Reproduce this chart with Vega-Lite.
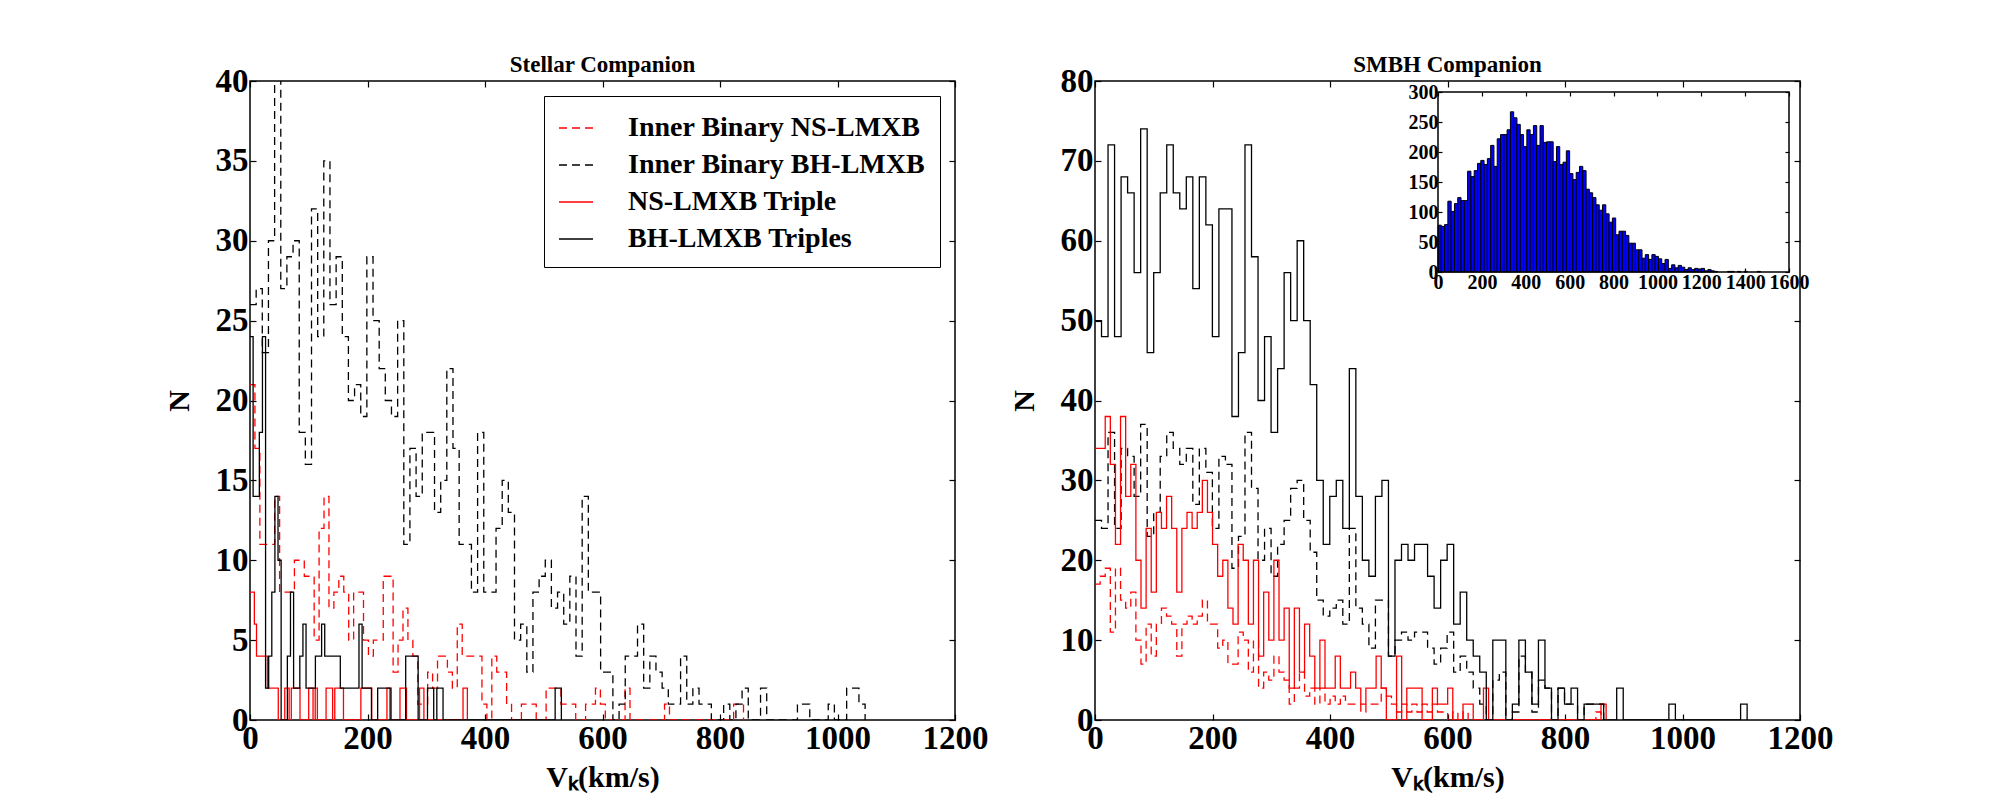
{
"$schema": "https://vega.github.io/schema/vega-lite/v6.json",
"background": "white",
"padding": {"left": 163, "top": 53, "right": 5, "bottom": 5},
"autosize": {"type": "pad"},
"config": {
  "font": "Liberation Serif",
  "view": {"stroke": "#000", "strokeWidth": 1.5},
  "axis": {"grid": false, "domain": false, "format": "d", "labelFont": "Liberation Serif", "labelFontWeight": "bold", "labelFontSize": 33, "labelColor": "#000", "tickColor": "#000", "tickSize": -6, "tickWidth": 1.2, "labelPadding": 8, "titleFont": "Liberation Serif", "titleFontWeight": "bold", "titleFontSize": 30, "titleColor": "#000", "labelOverlap": false, "labelBound": false, "labelFlush": false},
  "title": {"font": "Liberation Serif", "fontWeight": "bold", "fontSize": 23, "color": "#000", "offset": -12},
  "line": {"strokeJoin": "miter", "strokeCap": "butt"}
},
"datasets": {
"L": [
{"s":"a","v":0,"n":21},{"s":"a","v":8.4,"n":17},{"s":"a","v":16.8,"n":11},{"s":"a","v":42,"n":14},{"s":"a","v":50.4,"n":8},{"s":"a","v":75.6,"n":10},{"s":"a","v":92.4,"n":9},{"s":"a","v":109.2,"n":5},{"s":"a","v":117.6,"n":12},{"s":"a","v":126,"n":14},{"s":"a","v":134.4,"n":7},{"s":"a","v":142.8,"n":8},{"s":"a","v":151.2,"n":9},{"s":"a","v":159.6,"n":8},{"s":"a","v":168,"n":5},{"s":"a","v":176.4,"n":8},{"s":"a","v":193.2,"n":5},{"s":"a","v":201.6,"n":4},{"s":"a","v":210,"n":5},{"s":"a","v":226.8,"n":9},{"s":"a","v":243.6,"n":3},{"s":"a","v":252,"n":5},{"s":"a","v":260.4,"n":7},{"s":"a","v":268.8,"n":5},{"s":"a","v":277.2,"n":4},{"s":"a","v":285.6,"n":1},{"s":"a","v":302.4,"n":3},{"s":"a","v":310.8,"n":2},{"s":"a","v":319.2,"n":4},{"s":"a","v":336,"n":3},{"s":"a","v":344.4,"n":2},{"s":"a","v":352.8,"n":6},{"s":"a","v":361.2,"n":4},{"s":"a","v":394.8,"n":1},{"s":"a","v":403.2,"n":0},{"s":"a","v":411.6,"n":4},{"s":"a","v":420,"n":3},{"s":"a","v":436.8,"n":1},{"s":"a","v":445.2,"n":0},{"s":"a","v":462,"n":1},{"s":"a","v":487.2,"n":0},{"s":"a","v":504,"n":2},{"s":"a","v":529.2,"n":1},{"s":"a","v":554.4,"n":0},{"s":"a","v":571.2,"n":1},{"s":"a","v":588,"n":2},{"s":"a","v":596.4,"n":1},{"s":"a","v":604.8,"n":0},{"s":"a","v":638.4,"n":2},{"s":"a","v":646.8,"n":0},{"s":"a","v":705.6,"n":1},{"s":"a","v":714,"n":0},{"s":"a","v":823.2,"n":1},{"s":"a","v":840,"n":0},
{"s":"b","v":0,"n":26},{"s":"b","v":10.5,"n":27},{"s":"b","v":20.9,"n":23},{"s":"b","v":31.4,"n":30},{"s":"b","v":41.9,"n":42},{"s":"b","v":52.4,"n":27},{"s":"b","v":62.8,"n":29},{"s":"b","v":73.3,"n":30},{"s":"b","v":83.8,"n":18},{"s":"b","v":94.2,"n":16},{"s":"b","v":104.7,"n":32},{"s":"b","v":115.2,"n":24},{"s":"b","v":125.6,"n":35},{"s":"b","v":136.1,"n":26},{"s":"b","v":146.6,"n":29},{"s":"b","v":157.1,"n":24},{"s":"b","v":167.5,"n":20},{"s":"b","v":178,"n":21},{"s":"b","v":188.5,"n":19},{"s":"b","v":198.9,"n":29},{"s":"b","v":209.4,"n":25},{"s":"b","v":219.9,"n":22},{"s":"b","v":230.3,"n":20},{"s":"b","v":240.8,"n":19},{"s":"b","v":251.3,"n":25},{"s":"b","v":261.8,"n":11},{"s":"b","v":272.2,"n":17},{"s":"b","v":282.7,"n":14},{"s":"b","v":293.2,"n":18},{"s":"b","v":314.1,"n":13},{"s":"b","v":324.6,"n":15},{"s":"b","v":335,"n":22},{"s":"b","v":345.5,"n":17},{"s":"b","v":356,"n":11},{"s":"b","v":376.9,"n":8},{"s":"b","v":387.4,"n":18},{"s":"b","v":397.9,"n":8},{"s":"b","v":418.8,"n":12},{"s":"b","v":429.3,"n":15},{"s":"b","v":439.7,"n":13},{"s":"b","v":450.2,"n":5},{"s":"b","v":460.7,"n":6},{"s":"b","v":471.2,"n":3},{"s":"b","v":481.6,"n":8},{"s":"b","v":492.1,"n":9},{"s":"b","v":502.6,"n":10},{"s":"b","v":513,"n":7},{"s":"b","v":523.5,"n":8},{"s":"b","v":534,"n":6},{"s":"b","v":544.4,"n":9},{"s":"b","v":554.9,"n":4},{"s":"b","v":565.4,"n":14},{"s":"b","v":575.9,"n":8},{"s":"b","v":596.8,"n":3},{"s":"b","v":617.7,"n":0},{"s":"b","v":628.2,"n":1},{"s":"b","v":638.7,"n":4},{"s":"b","v":659.6,"n":6},{"s":"b","v":670.1,"n":2},{"s":"b","v":680.6,"n":4},{"s":"b","v":691,"n":3},{"s":"b","v":701.5,"n":2},{"s":"b","v":712,"n":1},{"s":"b","v":732.9,"n":4},{"s":"b","v":743.4,"n":1},{"s":"b","v":753.8,"n":2},{"s":"b","v":764.3,"n":1},{"s":"b","v":785.3,"n":0},{"s":"b","v":806.2,"n":1},{"s":"b","v":816.7,"n":0},{"s":"b","v":827.1,"n":1},{"s":"b","v":837.6,"n":2},{"s":"b","v":848.1,"n":0},{"s":"b","v":869,"n":2},{"s":"b","v":879.5,"n":0},{"s":"b","v":931.8,"n":1},{"s":"b","v":952.8,"n":0},{"s":"b","v":984.2,"n":1},{"s":"b","v":994.7,"n":0},{"s":"b","v":1015.6,"n":2},{"s":"b","v":1036.5,"n":1},{"s":"b","v":1047,"n":0},
{"s":"c","v":0,"n":8},{"s":"c","v":7.4,"n":6},{"s":"c","v":11.1,"n":4},{"s":"c","v":29.6,"n":2},{"s":"c","v":48.1,"n":0},{"s":"c","v":59.2,"n":2},{"s":"c","v":66.6,"n":0},{"s":"c","v":70.3,"n":2},{"s":"c","v":85.1,"n":0},{"s":"c","v":99.9,"n":2},{"s":"c","v":107.3,"n":0},{"s":"c","v":111,"n":2},{"s":"c","v":114.7,"n":0},{"s":"c","v":129.5,"n":2},{"s":"c","v":140.6,"n":0},{"s":"c","v":144.3,"n":2},{"s":"c","v":159.1,"n":0},{"s":"c","v":188.7,"n":2},{"s":"c","v":207.2,"n":0},{"s":"c","v":233.1,"n":2},{"s":"c","v":240.5,"n":0},{"s":"c","v":255.3,"n":2},{"s":"c","v":266.4,"n":0},{"s":"c","v":288.6,"n":2},{"s":"c","v":296,"n":0},{"s":"c","v":362.6,"n":2},{"s":"c","v":370,"n":0},
{"s":"d","v":0,"n":24},{"s":"d","v":5.3,"n":14},{"s":"d","v":15.9,"n":18},{"s":"d","v":21.2,"n":24},{"s":"d","v":26.5,"n":2},{"s":"d","v":31.8,"n":4},{"s":"d","v":37.1,"n":8},{"s":"d","v":42.4,"n":14},{"s":"d","v":47.7,"n":10},{"s":"d","v":53,"n":0},{"s":"d","v":63.6,"n":4},{"s":"d","v":68.9,"n":8},{"s":"d","v":74.2,"n":2},{"s":"d","v":84.8,"n":4},{"s":"d","v":90.1,"n":6},{"s":"d","v":95.4,"n":2},{"s":"d","v":111.3,"n":4},{"s":"d","v":121.9,"n":6},{"s":"d","v":127.2,"n":4},{"s":"d","v":153.7,"n":2},{"s":"d","v":185.5,"n":6},{"s":"d","v":190.8,"n":2},{"s":"d","v":206.7,"n":0},{"s":"d","v":217.3,"n":2},{"s":"d","v":238.5,"n":0},{"s":"d","v":265,"n":4},{"s":"d","v":286.2,"n":0},{"s":"d","v":302.1,"n":2},{"s":"d","v":312.7,"n":0},{"s":"d","v":318,"n":2},{"s":"d","v":328.6,"n":0},{"s":"d","v":519.4,"n":2},{"s":"d","v":530,"n":0}
],
"R": [
{"s":"a","v":0,"n":17},{"s":"a","v":8.7,"n":18},{"s":"a","v":17.4,"n":19},{"s":"a","v":26.1,"n":11},{"s":"a","v":34.8,"n":19},{"s":"a","v":43.5,"n":15},{"s":"a","v":52.2,"n":14},{"s":"a","v":60.9,"n":16},{"s":"a","v":69.6,"n":10},{"s":"a","v":78.3,"n":7},{"s":"a","v":87,"n":12},{"s":"a","v":95.7,"n":8},{"s":"a","v":104.4,"n":12},{"s":"a","v":113.1,"n":14},{"s":"a","v":121.8,"n":13},{"s":"a","v":130.5,"n":12},{"s":"a","v":139.2,"n":8},{"s":"a","v":147.9,"n":12},{"s":"a","v":156.6,"n":13},{"s":"a","v":165.3,"n":12},{"s":"a","v":174,"n":13},{"s":"a","v":182.7,"n":15},{"s":"a","v":191.4,"n":12},{"s":"a","v":208.8,"n":9},{"s":"a","v":217.5,"n":10},{"s":"a","v":226.2,"n":7},{"s":"a","v":243.6,"n":11},{"s":"a","v":252.3,"n":10},{"s":"a","v":261,"n":6},{"s":"a","v":269.7,"n":10},{"s":"a","v":278.4,"n":4},{"s":"a","v":287.1,"n":6},{"s":"a","v":295.8,"n":5},{"s":"a","v":304.5,"n":8},{"s":"a","v":313.2,"n":6},{"s":"a","v":321.9,"n":5},{"s":"a","v":330.6,"n":2},{"s":"a","v":339.3,"n":4},{"s":"a","v":348,"n":6},{"s":"a","v":356.7,"n":3},{"s":"a","v":365.4,"n":4},{"s":"a","v":374.1,"n":2},{"s":"a","v":382.8,"n":4},{"s":"a","v":391.5,"n":2},{"s":"a","v":400.2,"n":3},{"s":"a","v":408.9,"n":2},{"s":"a","v":417.6,"n":3},{"s":"a","v":426.3,"n":2},{"s":"a","v":452.4,"n":1},{"s":"a","v":461.1,"n":2},{"s":"a","v":487.2,"n":4},{"s":"a","v":495.9,"n":3},{"s":"a","v":504.6,"n":2},{"s":"a","v":513.3,"n":1},{"s":"a","v":522,"n":2},{"s":"a","v":530.7,"n":1},{"s":"a","v":539.4,"n":2},{"s":"a","v":548.1,"n":1},{"s":"a","v":556.8,"n":2},{"s":"a","v":565.5,"n":1},{"s":"a","v":574.2,"n":2},{"s":"a","v":582.9,"n":1},{"s":"a","v":600.3,"n":0},{"s":"a","v":609,"n":1},{"s":"a","v":617.7,"n":0},{"s":"a","v":626.4,"n":1},{"s":"a","v":635.1,"n":0},{"s":"a","v":852.6,"n":1},{"s":"a","v":861.3,"n":0},
{"s":"b","v":0,"n":25},{"s":"b","v":11.1,"n":24},{"s":"b","v":22.2,"n":36},{"s":"b","v":33.3,"n":24},{"s":"b","v":44.4,"n":34},{"s":"b","v":55.5,"n":33},{"s":"b","v":66.6,"n":28},{"s":"b","v":77.7,"n":37},{"s":"b","v":88.8,"n":23},{"s":"b","v":99.9,"n":26},{"s":"b","v":111,"n":33},{"s":"b","v":122.1,"n":36},{"s":"b","v":133.2,"n":34},{"s":"b","v":144.3,"n":32},{"s":"b","v":155.4,"n":34},{"s":"b","v":166.5,"n":27},{"s":"b","v":177.6,"n":34},{"s":"b","v":188.7,"n":31},{"s":"b","v":199.8,"n":24},{"s":"b","v":210.9,"n":33},{"s":"b","v":222,"n":32},{"s":"b","v":233.1,"n":19},{"s":"b","v":244.2,"n":23},{"s":"b","v":255.3,"n":36},{"s":"b","v":266.4,"n":29},{"s":"b","v":277.5,"n":20},{"s":"b","v":288.6,"n":24},{"s":"b","v":299.7,"n":18},{"s":"b","v":310.8,"n":22},{"s":"b","v":321.9,"n":25},{"s":"b","v":333,"n":29},{"s":"b","v":344.1,"n":30},{"s":"b","v":355.2,"n":25},{"s":"b","v":366.3,"n":21},{"s":"b","v":377.4,"n":15},{"s":"b","v":388.5,"n":13},{"s":"b","v":399.6,"n":14},{"s":"b","v":410.7,"n":15},{"s":"b","v":421.8,"n":12},{"s":"b","v":432.9,"n":24},{"s":"b","v":444,"n":14},{"s":"b","v":455.1,"n":12},{"s":"b","v":466.2,"n":9},{"s":"b","v":477.3,"n":15},{"s":"b","v":499.5,"n":8},{"s":"b","v":510.6,"n":10},{"s":"b","v":521.7,"n":11},{"s":"b","v":532.8,"n":10},{"s":"b","v":543.9,"n":11},{"s":"b","v":566.1,"n":9},{"s":"b","v":577.2,"n":7},{"s":"b","v":588.3,"n":9},{"s":"b","v":599.4,"n":11},{"s":"b","v":610.5,"n":6},{"s":"b","v":621.6,"n":8},{"s":"b","v":632.7,"n":6},{"s":"b","v":643.8,"n":4},{"s":"b","v":654.9,"n":2},{"s":"b","v":666,"n":0},{"s":"b","v":677.1,"n":5},{"s":"b","v":688.2,"n":6},{"s":"b","v":699.3,"n":0},{"s":"b","v":710.4,"n":1},{"s":"b","v":721.5,"n":8},{"s":"b","v":732.6,"n":6},{"s":"b","v":743.7,"n":1},{"s":"b","v":754.8,"n":5},{"s":"b","v":765.9,"n":4},{"s":"b","v":777,"n":0},{"s":"b","v":788.1,"n":4},{"s":"b","v":799.2,"n":2},{"s":"b","v":821.4,"n":0},{"s":"b","v":832.5,"n":2},{"s":"b","v":865.8,"n":0},
{"s":"c","v":0,"n":34},{"s":"c","v":17.4,"n":38},{"s":"c","v":26.1,"n":32},{"s":"c","v":34.8,"n":22},{"s":"c","v":43.5,"n":38},{"s":"c","v":52.2,"n":28},{"s":"c","v":60.9,"n":32},{"s":"c","v":69.6,"n":20},{"s":"c","v":78.3,"n":14},{"s":"c","v":87,"n":24},{"s":"c","v":95.7,"n":16},{"s":"c","v":104.4,"n":26},{"s":"c","v":113.1,"n":24},{"s":"c","v":121.8,"n":28},{"s":"c","v":130.5,"n":24},{"s":"c","v":139.2,"n":16},{"s":"c","v":147.9,"n":24},{"s":"c","v":156.6,"n":26},{"s":"c","v":165.3,"n":24},{"s":"c","v":174,"n":26},{"s":"c","v":182.7,"n":30},{"s":"c","v":191.4,"n":26},{"s":"c","v":200.1,"n":22},{"s":"c","v":208.8,"n":18},{"s":"c","v":217.5,"n":20},{"s":"c","v":226.2,"n":14},{"s":"c","v":234.9,"n":12},{"s":"c","v":243.6,"n":22},{"s":"c","v":252.3,"n":20},{"s":"c","v":261,"n":12},{"s":"c","v":269.7,"n":20},{"s":"c","v":278.4,"n":8},{"s":"c","v":287.1,"n":16},{"s":"c","v":295.8,"n":10},{"s":"c","v":304.5,"n":20},{"s":"c","v":313.2,"n":10},{"s":"c","v":321.9,"n":14},{"s":"c","v":330.6,"n":4},{"s":"c","v":339.3,"n":14},{"s":"c","v":348,"n":6},{"s":"c","v":356.7,"n":12},{"s":"c","v":365.4,"n":8},{"s":"c","v":374.1,"n":4},{"s":"c","v":382.8,"n":10},{"s":"c","v":391.5,"n":4},{"s":"c","v":408.9,"n":8},{"s":"c","v":417.6,"n":4},{"s":"c","v":435,"n":6},{"s":"c","v":443.7,"n":4},{"s":"c","v":452.4,"n":2},{"s":"c","v":461.1,"n":4},{"s":"c","v":478.5,"n":8},{"s":"c","v":487.2,"n":4},{"s":"c","v":495.9,"n":0},{"s":"c","v":513.3,"n":8},{"s":"c","v":522,"n":0},{"s":"c","v":530.7,"n":4},{"s":"c","v":556.8,"n":0},{"s":"c","v":574.2,"n":4},{"s":"c","v":582.9,"n":2},{"s":"c","v":600.3,"n":4},{"s":"c","v":609,"n":0},{"s":"c","v":626.4,"n":2},{"s":"c","v":643.8,"n":0},{"s":"c","v":661.2,"n":4},{"s":"c","v":669.9,"n":0},{"s":"c","v":861.3,"n":2},{"s":"c","v":870,"n":0},
{"s":"d","v":0,"n":50},{"s":"d","v":11.1,"n":48},{"s":"d","v":22.2,"n":72},{"s":"d","v":33.3,"n":48},{"s":"d","v":44.4,"n":68},{"s":"d","v":55.5,"n":66},{"s":"d","v":66.6,"n":56},{"s":"d","v":77.7,"n":74},{"s":"d","v":88.8,"n":46},{"s":"d","v":99.9,"n":56},{"s":"d","v":111,"n":66},{"s":"d","v":122.1,"n":72},{"s":"d","v":133.2,"n":66},{"s":"d","v":144.3,"n":64},{"s":"d","v":155.4,"n":68},{"s":"d","v":166.5,"n":54},{"s":"d","v":177.6,"n":68},{"s":"d","v":188.7,"n":62},{"s":"d","v":199.8,"n":48},{"s":"d","v":210.9,"n":64},{"s":"d","v":233.1,"n":38},{"s":"d","v":244.2,"n":46},{"s":"d","v":255.3,"n":72},{"s":"d","v":266.4,"n":58},{"s":"d","v":277.5,"n":40},{"s":"d","v":288.6,"n":48},{"s":"d","v":299.7,"n":36},{"s":"d","v":310.8,"n":44},{"s":"d","v":321.9,"n":56},{"s":"d","v":333,"n":50},{"s":"d","v":344.1,"n":60},{"s":"d","v":355.2,"n":50},{"s":"d","v":366.3,"n":42},{"s":"d","v":377.4,"n":30},{"s":"d","v":388.5,"n":22},{"s":"d","v":399.6,"n":28},{"s":"d","v":410.7,"n":30},{"s":"d","v":421.8,"n":24},{"s":"d","v":432.9,"n":44},{"s":"d","v":444,"n":28},{"s":"d","v":455.1,"n":20},{"s":"d","v":466.2,"n":18},{"s":"d","v":477.3,"n":28},{"s":"d","v":488.4,"n":30},{"s":"d","v":499.5,"n":8},{"s":"d","v":510.6,"n":20},{"s":"d","v":521.7,"n":22},{"s":"d","v":532.8,"n":20},{"s":"d","v":543.9,"n":22},{"s":"d","v":566.1,"n":18},{"s":"d","v":577.2,"n":14},{"s":"d","v":588.3,"n":20},{"s":"d","v":599.4,"n":22},{"s":"d","v":610.5,"n":12},{"s":"d","v":621.6,"n":16},{"s":"d","v":632.7,"n":10},{"s":"d","v":643.8,"n":8},{"s":"d","v":654.9,"n":6},{"s":"d","v":666,"n":0},{"s":"d","v":677.1,"n":10},{"s":"d","v":699.3,"n":0},{"s":"d","v":710.4,"n":2},{"s":"d","v":721.5,"n":10},{"s":"d","v":732.6,"n":6},{"s":"d","v":743.7,"n":2},{"s":"d","v":754.8,"n":10},{"s":"d","v":765.9,"n":4},{"s":"d","v":777,"n":0},{"s":"d","v":788.1,"n":4},{"s":"d","v":799.2,"n":2},{"s":"d","v":810.3,"n":4},{"s":"d","v":821.4,"n":0},{"s":"d","v":832.5,"n":2},{"s":"d","v":865.8,"n":0},{"s":"d","v":888,"n":4},{"s":"d","v":899.1,"n":0},{"s":"d","v":976.8,"n":2},{"s":"d","v":987.9,"n":0},{"s":"d","v":1098.9,"n":2},{"s":"d","v":1110,"n":0}
],
"I": [
{"x0":0,"x1":15,"h":78},{"x0":15,"x1":30,"h":76},{"x0":30,"x1":45,"h":79},{"x0":45,"x1":60,"h":118},{"x0":60,"x1":75,"h":101},{"x0":75,"x1":90,"h":114},{"x0":90,"x1":105,"h":124},{"x0":105,"x1":120,"h":119},{"x0":120,"x1":135,"h":119},{"x0":135,"x1":150,"h":168},{"x0":150,"x1":165,"h":159},{"x0":165,"x1":180,"h":169},{"x0":180,"x1":195,"h":181},{"x0":195,"x1":210,"h":186},{"x0":210,"x1":225,"h":179},{"x0":225,"x1":240,"h":189},{"x0":240,"x1":255,"h":211},{"x0":255,"x1":270,"h":176},{"x0":270,"x1":285,"h":222},{"x0":285,"x1":300,"h":229},{"x0":300,"x1":315,"h":229},{"x0":315,"x1":330,"h":237},{"x0":330,"x1":345,"h":267},{"x0":345,"x1":360,"h":257},{"x0":360,"x1":375,"h":246},{"x0":375,"x1":390,"h":229},{"x0":390,"x1":405,"h":209},{"x0":405,"x1":420,"h":237},{"x0":420,"x1":435,"h":229},{"x0":435,"x1":450,"h":244},{"x0":450,"x1":465,"h":211},{"x0":465,"x1":480,"h":244},{"x0":480,"x1":495,"h":216},{"x0":495,"x1":510,"h":217},{"x0":510,"x1":525,"h":217},{"x0":525,"x1":540,"h":184},{"x0":540,"x1":555,"h":209},{"x0":555,"x1":570,"h":179},{"x0":570,"x1":585,"h":183},{"x0":585,"x1":600,"h":202},{"x0":600,"x1":615,"h":164},{"x0":615,"x1":630,"h":154},{"x0":630,"x1":645,"h":166},{"x0":645,"x1":660,"h":176},{"x0":660,"x1":675,"h":169},{"x0":675,"x1":690,"h":138},{"x0":690,"x1":705,"h":132},{"x0":705,"x1":720,"h":124},{"x0":720,"x1":735,"h":112},{"x0":735,"x1":750,"h":103},{"x0":750,"x1":765,"h":112},{"x0":765,"x1":780,"h":97},{"x0":780,"x1":795,"h":83},{"x0":795,"x1":810,"h":90},{"x0":810,"x1":825,"h":62},{"x0":825,"x1":840,"h":68},{"x0":840,"x1":855,"h":68},{"x0":855,"x1":870,"h":61},{"x0":870,"x1":885,"h":48},{"x0":885,"x1":900,"h":48},{"x0":900,"x1":915,"h":37},{"x0":915,"x1":930,"h":37},{"x0":930,"x1":945,"h":23},{"x0":945,"x1":960,"h":29},{"x0":960,"x1":975,"h":21},{"x0":975,"x1":990,"h":29},{"x0":990,"x1":1005,"h":26},{"x0":1005,"x1":1020,"h":22},{"x0":1020,"x1":1035,"h":14},{"x0":1035,"x1":1050,"h":21},{"x0":1050,"x1":1065,"h":6},{"x0":1065,"x1":1080,"h":12},{"x0":1080,"x1":1095,"h":7},{"x0":1095,"x1":1110,"h":11},{"x0":1110,"x1":1125,"h":8},{"x0":1125,"x1":1140,"h":4},{"x0":1140,"x1":1155,"h":7},{"x0":1155,"x1":1170,"h":4},{"x0":1170,"x1":1185,"h":6},{"x0":1185,"x1":1200,"h":5},{"x0":1200,"x1":1215,"h":6},{"x0":1215,"x1":1230,"h":2},{"x0":1230,"x1":1245,"h":4},{"x0":1245,"x1":1260,"h":2},{"x0":1260,"x1":1275,"h":1},{"x0":1320,"x1":1335,"h":1},{"x0":1335,"x1":1350,"h":1},{"x0":1365,"x1":1380,"h":1},{"x0":1395,"x1":1410,"h":1},{"x0":1455,"x1":1470,"h":1}
]
},
"hconcat": [
{
  "width": 705, "height": 639,
  "title": {"text": "Stellar Companion"},
  "resolve": {"scale": {"x": "independent", "y": "independent"}},
  "layer": [
    {
      "data": {"name": "L"},
      "mark": {"type": "line", "interpolate": "step-after", "clip": true},
      "encoding": {
        "x": {"field": "v", "type": "quantitative", "scale": {"domain": [0, 1200], "nice": false, "zero": false}, "axis": {"orient": "bottom", "values": [0,200,400,600,800,1000,1200], "title": "Vₖ(km/s)", "titlePadding": 7}},
        "y": {"field": "n", "type": "quantitative", "scale": {"domain": [0, 40], "nice": false}, "axis": {"orient": "left", "values": [0,5,10,15,20,25,30,35,40], "title": "N", "titlePadding": 21}},
        "color": {"field": "s", "type": "nominal", "scale": {"domain": ["a","b","c","d"], "range": ["#ff0000","#000000","#ff0000","#000000"]},
          "legend": {"orient": "top-right", "offset": 15, "title": null, "padding": 14, "strokeColor": "#000", "fillColor": "#fff", "symbolType": "stroke", "symbolSize": 1156, "labelFont": "Liberation Serif", "labelFontSize": 28, "labelFontWeight": "bold", "labelColor": "#000", "labelLimit": 400, "rowPadding": 5, "labelOffset": 34,
            "labelExpr": "datum.label == 'a' ? 'Inner Binary NS-LMXB' : datum.label == 'b' ? 'Inner Binary BH-LMXB' : datum.label == 'c' ? 'NS-LMXB Triple' : 'BH-LMXB Triples'"}},
        "strokeDash": {"field": "s", "type": "nominal", "scale": {"domain": ["a","b","c","d"], "range": [[8,5],[8,5],[1,0],[1,0]]}},
        "strokeWidth": {"field": "s", "type": "nominal", "scale": {"domain": ["a","b","c","d"], "range": [1.3,1.3,3.2,3.2]}}
      }
    },
    {
      "data": {"values": [{}]},
      "mark": {"type": "point", "opacity": 0},
      "encoding": {
        "x": {"datum": 0, "type": "quantitative", "scale": {"domain": [0, 1200], "nice": false, "zero": false}, "axis": {"orient": "top", "labels": false, "title": null, "values": [0,200,400,600,800,1000,1200]}},
        "y": {"datum": 0, "type": "quantitative", "scale": {"domain": [0, 40], "nice": false}, "axis": {"orient": "right", "labels": false, "title": null, "values": [0,5,10,15,20,25,30,35,40]}}
      }
    }
  ]
},
{
  "width": 705, "height": 639,
  "title": {"text": "SMBH Companion"},
  "resolve": {"scale": {"x": "independent", "y": "independent"}},
  "layer": [
    {
      "data": {"name": "R"},
      "mark": {"type": "line", "interpolate": "step-after", "clip": true},
      "encoding": {
        "x": {"field": "v", "type": "quantitative", "scale": {"domain": [0, 1200], "nice": false, "zero": false}, "axis": {"orient": "bottom", "values": [0,200,400,600,800,1000,1200], "title": "Vₖ(km/s)", "titlePadding": 7}},
        "y": {"field": "n", "type": "quantitative", "scale": {"domain": [0, 80], "nice": false}, "axis": {"orient": "left", "values": [0,10,20,30,40,50,60,70,80], "title": "N", "titlePadding": 21}},
        "color": {"field": "s", "type": "nominal", "scale": {"domain": ["a","b","c","d"], "range": ["#ff0000","#000000","#ff0000","#000000"]}, "legend": null},
        "strokeDash": {"field": "s", "type": "nominal", "scale": {"domain": ["a","b","c","d"], "range": [[8,5],[8,5],[1,0],[1,0]]}, "legend": null},
        "strokeWidth": {"field": "s", "type": "nominal", "scale": {"domain": ["a","b","c","d"], "range": [1.3,1.3,3.2,3.2]}, "legend": null}
      }
    },
    {
      "data": {"values": [{}]},
      "mark": {"type": "point", "opacity": 0},
      "encoding": {
        "x": {"datum": 0, "type": "quantitative", "scale": {"domain": [0, 1200], "nice": false, "zero": false}, "axis": {"orient": "top", "labels": false, "title": null, "values": [0,200,400,600,800,1000,1200]}},
        "y": {"datum": 0, "type": "quantitative", "scale": {"domain": [0, 80], "nice": false}, "axis": {"orient": "right", "labels": false, "title": null, "values": [0,10,20,30,40,50,60,70,80]}}
      }
    },
    {
      "data": {"name": "I"},
      "mark": {"type": "bar", "fill": "#0000ff", "stroke": "#000", "strokeWidth": 1},
      "encoding": {
        "x": {"field": "x0", "type": "quantitative", "scale": {"domain": [0, 1600], "range": [343, 694], "nice": false, "zero": false}, "axis": {"orient": "bottom", "offset": -448, "values": [0,200,400,600,800,1000,1200,1400,1600], "labelFontSize": 20, "tickSize": -4, "labelPadding": 4, "title": null}},
        "x2": {"field": "x1"},
        "y": {"field": "h", "type": "quantitative", "scale": {"domain": [0, 300], "range": [191, 11], "nice": false}, "axis": {"orient": "left", "offset": -343, "values": [0,50,100,150,200,250,300], "labelFontSize": 20, "tickSize": -4, "labelPadding": 4, "title": null}},
        "y2": {"datum": 0}
      }
    },
    {
      "data": {"values": [{}]},
      "mark": {"type": "rect", "filled": false, "color": "#000", "strokeWidth": 1.5},
      "encoding": {
        "x": {"datum": 0, "type": "quantitative", "scale": {"domain": [0, 1600], "range": [343, 694], "nice": false, "zero": false}, "axis": {"orient": "top", "offset": -11, "labels": false, "title": null, "tickSize": -4, "values": [0,200,400,600,800,1000,1200,1400,1600]}},
        "x2": {"datum": 1600},
        "y": {"datum": 0, "type": "quantitative", "scale": {"domain": [0, 300], "range": [191, 11], "nice": false}, "axis": {"orient": "right", "offset": -11, "labels": false, "title": null, "tickSize": -4, "values": [0,50,100,150,200,250,300]}},
        "y2": {"datum": 300}
      }
    }
  ]
}
],
"spacing": 140,
"bounds": "flush",
"resolve": {"scale": {"color": "independent", "strokeDash": "independent", "strokeWidth": "independent"}, "legend": {"color": "independent", "strokeDash": "independent", "strokeWidth": "independent"}}
}
